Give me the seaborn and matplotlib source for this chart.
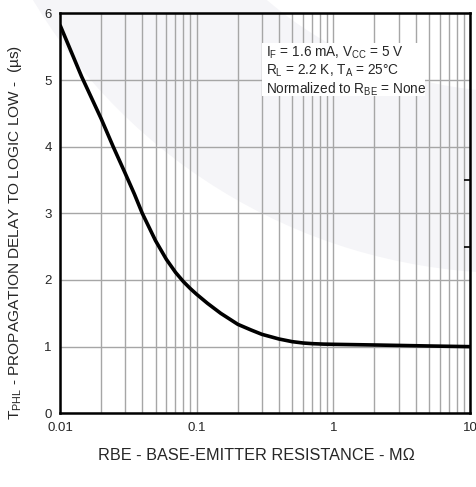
import numpy as np
import pandas as pd
import matplotlib
matplotlib.use("Agg")
import matplotlib.pyplot as plt
import matplotlib.ticker as mticker
from matplotlib.patches import Wedge, Rectangle
from matplotlib.transforms import IdentityTransform
import seaborn as sns

# values
rbe = [0.01, 0.0144, 0.02, 0.0245, 0.03, 0.035, 0.04, 0.05, 0.06, 0.07,
       0.08, 0.09, 0.1, 0.12, 0.15, 0.2, 0.25, 0.3, 0.4, 0.5, 0.6, 0.7,
       0.85, 1.0, 2.0, 5.0, 10.0]
tphl = [5.825, 5.05, 4.42, 4.0, 3.6, 3.29, 3.0, 2.59, 2.31, 2.115,
        1.975, 1.87, 1.785, 1.65, 1.5, 1.335, 1.25, 1.185, 1.115, 1.075,
        1.055, 1.045, 1.038, 1.035, 1.025, 1.01, 1.0]

x_ticks = [0.01, 0.1, 1, 10]
x_tick_labels = ["0.01", "0.1", "1", "10"]
y_ticks = [0, 1, 2, 3, 4, 5, 6]

df = pd.DataFrame({"rbe": rbe, "tphl": tphl})

sns.set_style("white")
plt.rcParams["font.family"] = ["Liberation Sans", "DejaVu Sans"]
plt.rcParams["mathtext.fontset"] = "custom"
plt.rcParams["mathtext.rm"] = "Liberation Sans"

fig = plt.figure(figsize=(4.77, 4.87), dpi=100)
ax = fig.add_axes([0.1258, 0.1513, 0.8595, 0.8213])
ax.set_facecolor("none")

# faint watermark arc behind the chart
arc = Wedge((513.7, 773.3), 559.5, 180, 300, width=181.5,
            transform=IdentityTransform(),
            facecolor="#f5f5f8", edgecolor="none", zorder=-10)
fig.add_artist(arc)

sns.lineplot(data=df, x="rbe", y="tphl", ax=ax, color="black", lw=2.6,
             zorder=5, solid_joinstyle="round", solid_capstyle="butt")

ax.set_xscale("log")
ax.set_xlim(0.01, 10)
ax.set_ylim(0, 6)
ax.set_xticks(x_ticks)
ax.set_xticklabels(x_tick_labels)
ax.set_yticks(y_ticks)
ax.xaxis.set_minor_locator(mticker.LogLocator(base=10, subs=np.arange(2, 10)))
ax.xaxis.set_minor_formatter(mticker.NullFormatter())
ax.yaxis.set_minor_locator(mticker.FixedLocator([2.5, 3.5]))

ax.grid(True, which="both", axis="x", color="#a6a6a6", lw=1.0)
ax.grid(True, which="major", axis="y", color="#a6a6a6", lw=1.0)
ax.tick_params(which="major", length=0, labelsize=9.5, pad=6)
ax.tick_params(axis="y", which="minor", left=False, right=True,
               direction="in", length=4, width=1.2, color="black")
ax.tick_params(axis="x", which="minor", length=0)

for s in ax.spines.values():
    s.set_visible(True)
    s.set_color("black")
    s.set_linewidth(1.8)

ax.set_xlabel("RBE - BASE-EMITTER RESISTANCE - M\u03a9", fontsize=11.7)
ax.xaxis.set_label_coords(0.478, -0.086)
ax.set_ylabel("T$_{\\rm PHL}$ - PROPAGATION DELAY TO LOGIC LOW -  (\u00b5s)",
              fontsize=11.1)
ax.yaxis.set_label_coords(-0.087, 0.452)

# white patch behind the conditions text
ax.add_patch(Rectangle((0.4927, 0.793), 0.397, 0.133, transform=ax.transAxes,
                       facecolor="white", edgecolor="none", zorder=3))
ax.text(0.502, 0.921,
        "I$_{\\rm F}$ = 1.6 mA, V$_{\\rm CC}$ = 5 V\n"
        "R$_{\\rm L}$ = 2.2 K, T$_{\\rm A}$ = 25\u00b0C\n"
        "Normalized to R$_{\\rm BE}$ = None",
        transform=ax.transAxes, ha="left", va="top", fontsize=9.8,
        linespacing=1.12, zorder=6)

fig.savefig("out.png", dpi=100)
